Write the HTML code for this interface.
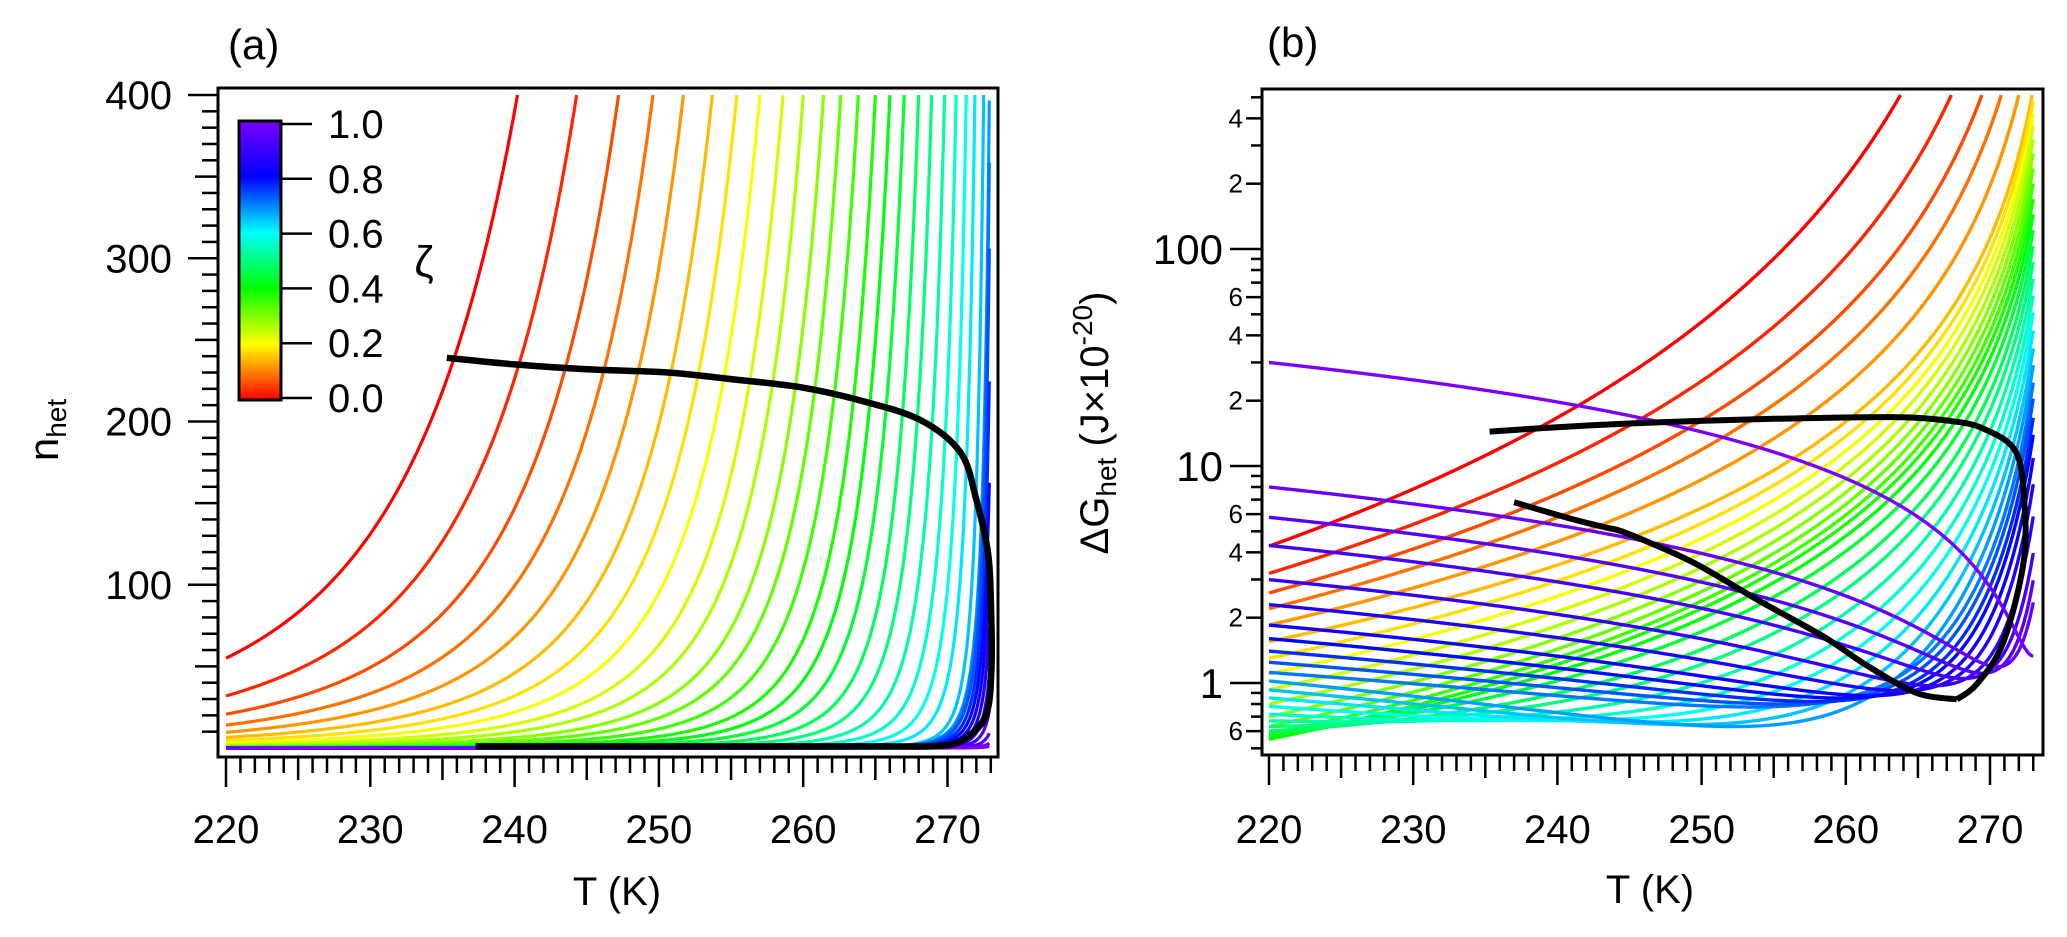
<!DOCTYPE html>
<html><head><meta charset="utf-8"><style>
html,body{margin:0;padding:0;background:#fff;}
svg{display:block;font-family:"Liberation Sans",Arial,sans-serif;}
</style></head><body>
<svg id="fig" width="2067" height="937" viewBox="0 0 2067 937" xmlns="http://www.w3.org/2000/svg">
<defs>
<clipPath id="clipA"><rect x="218" y="88" width="780" height="669"/></clipPath>
<clipPath id="clipB"><rect x="1262" y="89" width="781" height="666"/></clipPath>
<linearGradient id="cbgrad" x1="0" y1="1" x2="0" y2="0">
<stop offset="0" stop-color="#ff0000"/><stop offset="0.2" stop-color="#ffff00"/><stop offset="0.4" stop-color="#00ff00"/><stop offset="0.6" stop-color="#00ffff"/><stop offset="0.8" stop-color="#0000ff"/><stop offset="1" stop-color="#7a00ff"/>
</linearGradient>
</defs>
<text x="228" y="59" font-size="42">(a)</text>
<text x="1267" y="57" font-size="42">(b)</text>
<g id="gA"></g>
<g id="gB"></g>
<text x="617" y="905" font-size="40" text-anchor="middle">T (K)</text>
<text x="1650" y="903" font-size="40" text-anchor="middle">T (K)</text>
<text transform="translate(58,430) rotate(-90)" font-size="42" text-anchor="middle">n<tspan font-size="28" dy="8">het</tspan></text>
<text transform="translate(1108,423) rotate(-90)" font-size="40" text-anchor="middle">ΔG<tspan font-size="28" dy="8">het</tspan><tspan dy="-8"> (J×10</tspan><tspan font-size="28" dy="-16">-20</tspan><tspan dy="16">)</tspan></text>
<g>
<rect x="239" y="121" width="42" height="279" fill="url(#cbgrad)" stroke="#000" stroke-width="3"/>
</g>
<text x="424" y="262" font-size="44" text-anchor="middle" dominant-baseline="central">ζ</text>
</svg>
<script>
// ---------- Panel (a) data ----------
const zetaA = [0,.029,.059,.088,.118,.147,.176,.206,.235,.265,.294,.324,.353,.382,.412,.441,.471,.5,.529,.559,.588,.618,.647,.676,.706,.735,.765,.794,.824,.853,.882,.912,.941,.971,1];
const nAt220 = [55.0,31.9,20.7,14.0,9.59,6.47,4.50,3.10,2.06,1.39,0.90,0.60,0.38,0.231,0.144,0.0852,0.0466,0.0249,0.0120,0.00552,0.00244,0.00105,3.6e-4,8.3e-4,7.5e-4,6.4e-4,4.7e-4,3.4e-4,2.35e-4,1.54e-4,9.4e-5,4.8e-5,1.9e-5,6.2e-6,2.1e-6];
const nExp = [4.3,4.3,4.3,4.3,4.3,4.3,4.3,4.3,4.3,4.3,4.3,4.3,4.3,4.3,4.3,4.3,4.3,4.3,4.3,4.3,4.3,4.3,4.3,3.8,3.8,3.8,3.8,3.8,3.8,3.8,3.8,3.8,3.8,3.8,3.8];
const blackAT = [235.3,240,245,250.6,255,259.8,263.9,268.1,270.9,272.0,272.8,273.0,273.05,272.7,271.4,269.7,265,250,237.3];
const blackAN = [239,235,232,230,226,221,213,201,181,152,120,91,50,21,7,1.5,1.0,1.0,1.0];
const xTicksA = [220,230,240,250,260,270];
const yTicksA = [100,200,300,400];
const cbTicks = [0.0,0.2,0.4,0.6,0.8,1.0];
// ---------- Panel (b) data ----------
const zetaB = [0,.029,.059,.088,.118,.147,.176,.206,.235,.265,.294,.324,.353,.382,.412,.441,.471,.5,.529,.559,.588,.618,.647,.676,.706,.735,.765,.794,.824,.853,.882,.912,.941,.971,1];
const riseAmp = [4.27,3.2,2.6,2.2,1.85,1.55,1.3,1.1,0.93,0.8,0.7,0.63,0.58,0.55,0.494,0.417,0.32,0.253,0.18,0.128,0.091,0.064,0.045,0.032,0.019,0.016,0.013,0.0108,0.0084,0.0063,0.0044,0.0029,0.0021,0.0016,0.0007];
const riseExp = [3.03,2.60,2.33,2.15,1.965,1.807,1.822,1.832,1.845,1.846,1.841,1.825,1.801,1.767,1.75,1.75,1.78,1.8,1.85,1.9,1.95,2.0,2.05,2.1,2.2,2.2,2.2,2.2,2.2,2.2,2.2,2.2,2.2,2.2,2.2];
const fallAmp = [0,0,0,0,0,0,0,0,0,0,0,0,0,0,0.066,0.163,0.28,0.377,0.49,0.59,0.69,0.79,0.885,0.99,0.80,0.93,1.09,1.29,1.54,1.99,2.69,4.0,5.5,7.7,29.7];
const floorB = [0,0,0,0,0,0,0,0,0,0,0,0,0,0,0,0,0,0,0,0,0,0,0,0,0.3,0.3,0.3,0.3,0.3,0.3,0.3,0.3,0.3,0.3,0.3];
const blackB1T = [235.3,240,245,249.4,255,263.1,267,269.5,271.8,272.4,272.3,270.9,269.1,267.7];
const blackB1V = [14.4,15.1,15.7,16.1,16.5,16.8,16.2,14.9,11.6,6.5,3.5,1.53,0.99,0.84];
const blackB2T = [267.7,264.9,261.5,258.5,254,249.4,244.8,243.4,241,237];
const blackB2V = [0.84,0.90,1.2,1.63,2.39,3.6,4.9,5.2,5.7,6.8];
const xTicksB = [220,230,240,250,260,270];
const yMajorB = [1,10,100];

const NS='http://www.w3.org/2000/svg';
function mk(tag, attrs, parent){const e=document.createElementNS(NS,tag);for(const k in attrs)e.setAttribute(k,attrs[k]);parent.appendChild(e);return e;}
const svg=document.getElementById('fig');
const gA=document.getElementById('gA');
const gB=document.getElementById('gB');
const T0=273.15;
const stops=[[0,[255,0,0]],[0.2,[255,255,0]],[0.4,[0,255,0]],[0.6,[0,255,255]],[0.8,[0,0,255]],[1,[122,0,255]]];
function color(z){for(let i=0;i<stops.length-1;i++){const a=stops[i],b=stops[i+1];if(z<=b[0]){const t=(z-a[0])/(b[0]-a[0]);const c=a[1].map((v,j)=>Math.round(v+(b[1][j]-v)*t));return 'rgb('+c.join(',')+')';}}return 'rgb(122,0,255)';}
function xA(T){return 226+(T-220)*14.43;}
function yA(n){return 748-n*1.6325;}
function xB(T){return 1269+(T-220)*14.42;}
function yB(v){return 683-217*Math.log10(v);}
function smooth(pts){let d='M'+pts[0][0].toFixed(1)+','+pts[0][1].toFixed(1);for(let i=0;i<pts.length-1;i++){const p0=pts[i-1]||pts[i],p1=pts[i],p2=pts[i+1],p3=pts[i+2]||p2;const c1=[p1[0]+(p2[0]-p0[0])/6,p1[1]+(p2[1]-p0[1])/6],c2=[p2[0]-(p3[0]-p1[0])/6,p2[1]-(p3[1]-p1[1])/6];d+='C'+c1[0].toFixed(1)+','+c1[1].toFixed(1)+' '+c2[0].toFixed(1)+','+c2[1].toFixed(1)+' '+p2[0].toFixed(1)+','+p2[1].toFixed(1);}return d;}

// ---- Panel A curves ----
const cA=mk('g',{'clip-path':'url(#clipA)'},gA);
zetaA.forEach((z,i)=>{
  const s=nAt220[i],q=nExp[i];let d='';let T=220;
  while(T<=272.9+1e-9){let n=s*Math.pow(54.65/(T0-T+1.5),q);
    if(n>400){const dt=54.65/Math.pow(400/s,1/q)-1.5;const Tc=T0-dt;d+='L'+xA(Tc).toFixed(1)+','+yA(400).toFixed(1);break;}
    d+=(d?'L':'M')+xA(T).toFixed(1)+','+yA(n).toFixed(1);T+=0.05;}
  const p=mk('path',{d:d,fill:'none',stroke:color(z),'stroke-width':3.2,'stroke-linejoin':'round'},cA);
  
  
});
const bA=mk('path',{d:smooth(blackAT.map((t,i)=>[xA(t),yA(blackAN[i])])),fill:'none',stroke:'#000','stroke-width':6.5,'stroke-linejoin':'round'},cA);


const fA=mk('rect',{x:218,y:88,width:780,height:669,fill:'none',stroke:'#000','stroke-width':3},gA);


for(let t=220;t<=273;t++){const len=t%10===0?30:(t%5===0?23:16);const l=mk('line',{x1:xA(t),x2:xA(t),y1:757,y2:757+len,stroke:'#000','stroke-width':2.5},gA);
  
  }
xTicksA.forEach(t=>{const tx=mk('text',{x:xA(t),y:843,'font-size':40,'text-anchor':'middle'},gA);tx.textContent=t;
  
  });
for(let n=10;n<=400;n+=10){const len=n%100===0?30:(n%50===0?23:16);const l=mk('line',{x1:218-len,x2:218,y1:yA(n),y2:yA(n),stroke:'#000','stroke-width':2.5},gA);
  
  }
yTicksA.forEach(n=>{const tx=mk('text',{x:172,y:yA(n)+14,'font-size':40,'text-anchor':'end'},gA);tx.textContent=n;
  
  });
cbTicks.forEach(v=>{const y=398-v*274;const l=mk('line',{x1:281,x2:312,y1:y,y2:y,stroke:'#000','stroke-width':2.5},svg);
  
  
  const tx=mk('text',{x:328,y:y+14,'font-size':40},svg);tx.textContent=v.toFixed(1);
  
  });

// ---- Panel B curves ----
const cB=mk('g',{'clip-path':'url(#clipB)'},gB);
const vmax=Math.pow(10,(683-95)/217);
function gval(i,T){const dT=T0-T;return floorB[i]+fallAmp[i]*Math.pow(dT/53.15,0.9)+riseAmp[i]*Math.pow(55.15/(dT+2),riseExp[i]);}
zetaB.forEach((z,i)=>{
  let d='';let T=220;let prevT=220;
  while(T<=273.0+1e-9){const v=gval(i,T);
    if(v>vmax){let lo=prevT,hi=T;for(let k=0;k<30;k++){const m=(lo+hi)/2;if(gval(i,m)>vmax)hi=m;else lo=m;}d+='L'+xB(lo).toFixed(1)+','+yB(vmax).toFixed(1);break;}
    d+=(d?'L':'M')+xB(T).toFixed(1)+','+yB(v).toFixed(1);prevT=T;T+=0.05;}
  const p=mk('path',{d:d,fill:'none',stroke:color(z),'stroke-width':3.4,'stroke-linejoin':'round'},cB);
  
  
});
const b1=mk('path',{d:smooth(blackB1T.map((t,i)=>[xB(t),yB(blackB1V[i])])),fill:'none',stroke:'#000','stroke-width':6,'stroke-linejoin':'round'},cB);


const b2=mk('path',{d:smooth(blackB2T.map((t,i)=>[xB(t),yB(blackB2V[i])])),fill:'none',stroke:'#000','stroke-width':6,'stroke-linejoin':'round'},cB);


const fB=mk('rect',{x:1262,y:89,width:781,height:666,fill:'none',stroke:'#000','stroke-width':3},gB);


for(let t=220;t<=273;t++){const len=t%10===0?30:(t%5===0?23:16);const l=mk('line',{x1:xB(t),x2:xB(t),y1:755,y2:755+len,stroke:'#000','stroke-width':2.5},gB);
  
  }
xTicksB.forEach(t=>{const tx=mk('text',{x:xB(t),y:843,'font-size':40,'text-anchor':'middle'},gB);tx.textContent=t;
  
  });
for(let dec=-1;dec<=2;dec++){for(let k=1;k<=9;k++){const v=k*Math.pow(10,dec);const y=yB(v);if(y<90||y>754)continue;
  const major=(k===1);const lab=(k===2||k===4||k===6);const len=major?32:(lab?16:11);
  const l=mk('line',{x1:1262-len,x2:1262,y1:y,y2:y,stroke:'#000','stroke-width':2.5},gB);
  
  
  if(lab){const tx=mk('text',{x:1243,y:y+9,'font-size':26,'text-anchor':'end'},gB);tx.textContent=k;
    
    }}}
yMajorB.forEach(v=>{const tx=mk('text',{x:1223,y:yB(v)+15,'font-size':42,'text-anchor':'end'},gB);tx.textContent=v;
  
  });
</script>
</body></html>
